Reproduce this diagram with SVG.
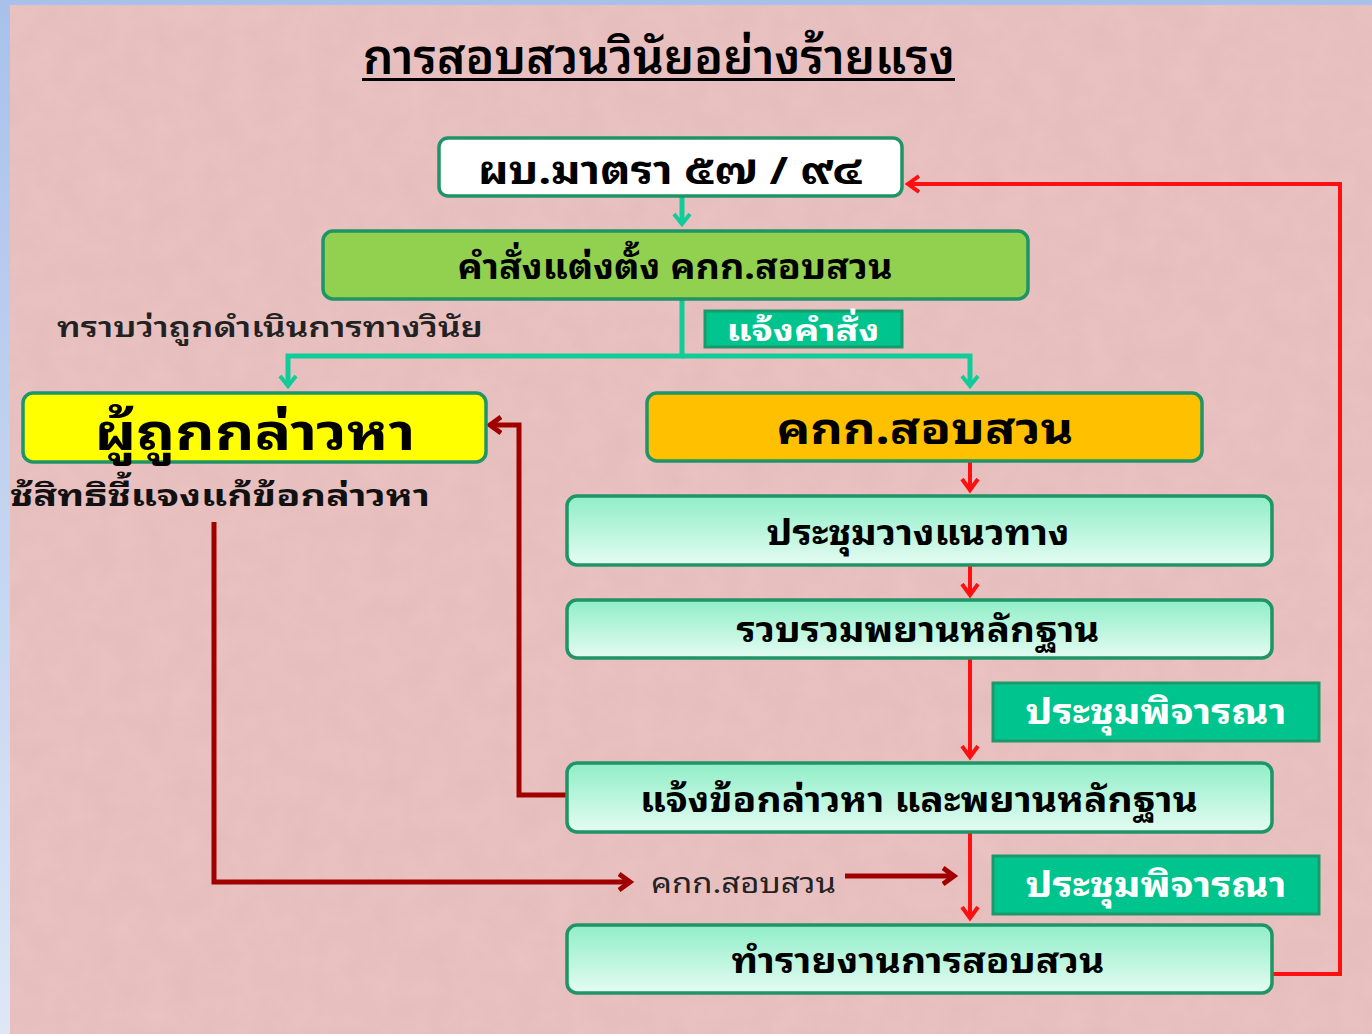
<svg xmlns="http://www.w3.org/2000/svg" width="1372" height="1034" viewBox="0 0 1372 1034">
<style>
.th{font-family:"Noto Sans Thai Looped","Noto Sans Thai","Tahoma","Liberation Sans",sans-serif;}
.b{font-weight:bold;}
.node{stroke:#1f9466;stroke-width:3.5;}
.step{fill:url(#stepGrad);stroke:#1f9466;stroke-width:3.5;}
.lbl{fill:#00c48e;stroke:#1a9a6a;stroke-width:3;}
.teal{fill:none;stroke:#10cc98;stroke-width:5;}
.red{fill:none;stroke:#ff1010;stroke-width:4;}
.dred{fill:none;stroke:#a00000;stroke-width:5;}
</style>
<defs>
<linearGradient id="stepGrad" x1="0" y1="0" x2="0" y2="1">
<stop offset="0" stop-color="#90eec8"/>
<stop offset="1" stop-color="#e4fcf2"/>
</linearGradient>
<linearGradient id="sideGrad" x1="0" y1="0" x2="0" y2="1">
<stop offset="0" stop-color="#a9c1ea"/>
<stop offset="1" stop-color="#dde7f6"/>
</linearGradient>
<filter id="tex" x="0" y="0" width="100%" height="100%">
<feTurbulence type="fractalNoise" baseFrequency="0.035" numOctaves="3" seed="4"/>
<feColorMatrix type="matrix" values="0 0 0 0 0.6  0 0 0 0 0.35  0 0 0 0 0.35  0 0 0 0.2 0"/>
</filter>
<marker id="aTeal" markerUnits="userSpaceOnUse" markerWidth="24" markerHeight="24" viewBox="-12 -12 24 24" refX="0" refY="0" orient="auto">
<path d="M-10,-8 L0,0 L-10,8" fill="none" stroke="#10cc98" stroke-width="4"/>
</marker>
<marker id="aRed" markerUnits="userSpaceOnUse" markerWidth="24" markerHeight="24" viewBox="-12 -12 24 24" refX="0" refY="0" orient="auto">
<path d="M-11,-8 L0,0 L-11,8" fill="none" stroke="#ff1010" stroke-width="4"/>
</marker>
<marker id="aDred" markerUnits="userSpaceOnUse" markerWidth="24" markerHeight="24" viewBox="-12 -12 24 24" refX="0" refY="0" orient="auto">
<path d="M-11,-8 L0,0 L-11,8" fill="none" stroke="#a00000" stroke-width="5"/>
</marker>
</defs>

<!-- background -->
<rect x="0" y="0" width="1372" height="1034" fill="url(#sideGrad)"/>
<rect x="10" y="5" width="1362" height="1029" fill="#ebc3c3"/>
<rect x="10" y="5" width="1362" height="1029" filter="url(#tex)"/>

<!-- title -->
<g id="title">
<text class="th" x="659" y="74" text-anchor="middle" font-size="48" font-weight="600" fill="#000" textLength="592" lengthAdjust="spacingAndGlyphs">การสอบสวนวินัยอย่างร้ายแรง</text>
<rect x="362" y="78" width="593" height="3" fill="#000"/>
</g>

<!-- connectors -->
<g id="connectors">
<path class="teal" d="M682,197 V224" marker-end="url(#aTeal)"/>
<path class="teal" d="M682,300 V356 H288 V386" marker-end="url(#aTeal)"/>
<path class="teal" d="M682,356 H970 V386" marker-end="url(#aTeal)"/>
<path class="red" d="M970,462 V490" marker-end="url(#aRed)"/>
<path class="red" d="M970,566 V595" marker-end="url(#aRed)"/>
<path class="red" d="M970,659 V757" marker-end="url(#aRed)"/>
<path class="red" d="M970,833 V918" marker-end="url(#aRed)"/>
<path class="red" d="M1272,974 H1340 V184 H908" marker-end="url(#aRed)"/>
<path class="dred" d="M567,795 H519 V425 H490" marker-end="url(#aDred)"/>
<path class="dred" d="M214,522 V882 H630" marker-end="url(#aDred)"/>
<path class="dred" d="M845,876 H954" marker-end="url(#aDred)"/>
</g>

<!-- nodes -->
<g id="n_law">
<rect class="node" x="439" y="138" width="463" height="58" rx="9" fill="#ffffff"/>
<text class="th b" x="670" y="184" text-anchor="middle" font-size="38" fill="#000" textLength="384" lengthAdjust="spacingAndGlyphs">ผบ.มาตรา ๕๗ / ๙๔</text>
</g>
<g id="n_order">
<rect class="node" x="323" y="231" width="705" height="68" rx="10" fill="#92d050"/>
<text class="th b" x="675" y="279" text-anchor="middle" font-size="34" fill="#000" textLength="435" lengthAdjust="spacingAndGlyphs">คำสั่งแต่งตั้ง คกก.สอบสวน</text>
</g>
<g id="l_notify">
<rect class="lbl" x="705" y="311" width="197" height="36"/>
<text class="th b" x="803" y="341" text-anchor="middle" font-size="30" fill="#ffffff" textLength="153" lengthAdjust="spacingAndGlyphs">แจ้งคำสั่ง</text>
</g>
<g id="t_know">
<text class="th" x="57" y="337" font-size="28" font-weight="600" fill="#222" textLength="426" lengthAdjust="spacingAndGlyphs">ทราบว่าถูกดำเนินการทางวินัย</text>
</g>
<g id="n_accused">
<rect class="node" x="23" y="393" width="463" height="69" rx="10" fill="#ffff00"/>
<text class="th b" x="255" y="450" text-anchor="middle" font-size="50" fill="#000" textLength="321" lengthAdjust="spacingAndGlyphs">ผู้ถูกกล่าวหา</text>
</g>
<g id="t_right">
<text class="th b" x="10" y="506" font-size="30" fill="#111" textLength="420" lengthAdjust="spacingAndGlyphs">ช้สิทธิชี้แจงแก้ข้อกล่าวหา</text>
</g>
<g id="n_committee">
<rect class="node" x="647" y="393" width="555" height="68" rx="10" fill="#ffc000"/>
<text class="th b" x="925" y="444" text-anchor="middle" font-size="44" fill="#000" textLength="297" lengthAdjust="spacingAndGlyphs">คกก.สอบสวน</text>
</g>
<g id="n_plan">
<rect class="step" x="567" y="496" width="705" height="69" rx="10"/>
<text class="th b" x="918" y="545" text-anchor="middle" font-size="34" fill="#000" textLength="303" lengthAdjust="spacingAndGlyphs">ประชุมวางแนวทาง</text>
</g>
<g id="n_collect">
<rect class="step" x="567" y="600" width="705" height="58" rx="10"/>
<text class="th b" x="918" y="642" text-anchor="middle" font-size="34" fill="#000" textLength="363" lengthAdjust="spacingAndGlyphs">รวบรวมพยานหลักฐาน</text>
</g>
<g id="l_meet1">
<rect class="lbl" x="993" y="683" width="326" height="58"/>
<text class="th b" x="1156" y="724" text-anchor="middle" font-size="34" fill="#ffffff" textLength="261" lengthAdjust="spacingAndGlyphs">ประชุมพิจารณา</text>
</g>
<g id="n_charge">
<rect class="step" x="567" y="763" width="705" height="69" rx="10"/>
<text class="th b" x="919" y="812" text-anchor="middle" font-size="34" fill="#000" textLength="558" lengthAdjust="spacingAndGlyphs">แจ้งข้อกล่าวหา และพยานหลักฐาน</text>
</g>
<g id="t_comm2">
<text class="th" x="651" y="893" font-size="28" fill="#222" textLength="185" lengthAdjust="spacingAndGlyphs">คกก.สอบสวน</text>
</g>
<g id="l_meet2">
<rect class="lbl" x="993" y="856" width="326" height="58"/>
<text class="th b" x="1156" y="897" text-anchor="middle" font-size="34" fill="#ffffff" textLength="261" lengthAdjust="spacingAndGlyphs">ประชุมพิจารณา</text>
</g>
<g id="n_report">
<rect class="step" x="567" y="925" width="705" height="68" rx="10"/>
<text class="th b" x="918" y="973" text-anchor="middle" font-size="34" fill="#000" textLength="373" lengthAdjust="spacingAndGlyphs">ทำรายงานการสอบสวน</text>
</g>
</svg>
